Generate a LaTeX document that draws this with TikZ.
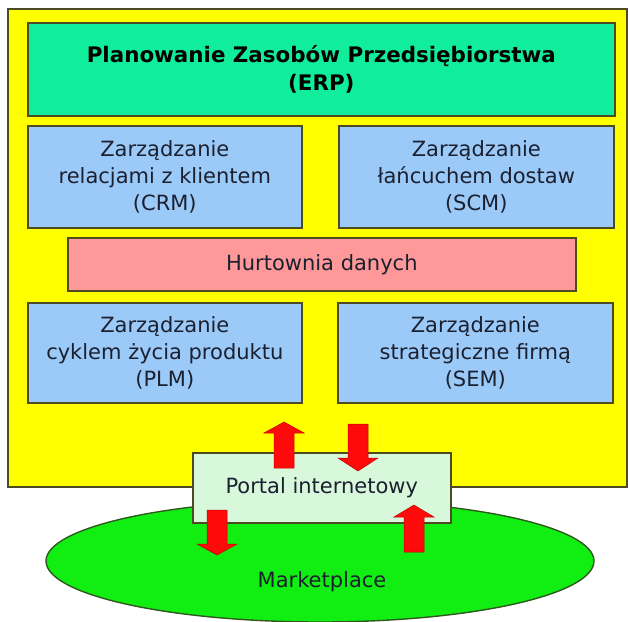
\documentclass[tikz,border=0pt]{standalone}
\usepackage{fontspec}
\setmainfont{DejaVu Sans}
\usetikzlibrary{shapes.geometric}

\definecolor{frameyellow}{HTML}{FFFF00}
\definecolor{erpgreen}{HTML}{10EE9C}
\definecolor{modblue}{HTML}{9CCAF8}
\definecolor{dwpink}{HTML}{FF9999}
\definecolor{portalmint}{HTML}{D8F8DC}
\definecolor{marketgreen}{HTML}{11EE11}
\definecolor{edgeolive}{HTML}{4E4A22}
\definecolor{marketedge}{HTML}{2E5A1E}
\definecolor{inkdark}{HTML}{1B2030}
\definecolor{flowred}{HTML}{FF0A0A}
\definecolor{flowedge}{HTML}{C00000}

\tikzset{
  panel/.style={draw=edgeolive, line width=1.6pt, rectangle, inner sep=0pt,
    anchor=north west, align=center, text=inkdark,
    font=\fontsize{21}{27}\selectfont},
  module/.style={panel, fill=modblue},
  txt/.style={text=inkdark, font=\fontsize{21}{27}\selectfont, inner sep=0pt},
  flow/.style={fill=flowred, draw=flowedge, line width=0.5pt, line join=miter}
}

% vertical block arrow: x centre, tail y, tip y, head base y
\newcommand\blockarrow[4]{%
  \draw[flow] (#1-10,#2) -- (#1-10,#4) -- (#1-20,#4) -- (#1,#3)
    -- (#1+20,#4) -- (#1+10,#4) -- (#1+10,#2) -- cycle;}

\begin{document}
\begin{tikzpicture}[x=1pt, y=-1pt]
\useasboundingbox (0,0) rectangle (628,621);

% enterprise frame
\node[panel, fill=frameyellow, minimum width=619pt, minimum height=478pt]
  (frame) at (7,8) {};

\node[panel, fill=erpgreen, minimum width=587pt, minimum height=93pt,
  text=black, font=\fontsize{21.4}{28}\selectfont\bfseries] (erp) at (27,22)
  {Planowanie Zasobów Przedsiębiorstwa\\(ERP)};

\node[module, minimum width=274pt, minimum height=102pt] (crm) at (27,125)
  {Zarządzanie\\relacjami z klientem\\(CRM)};
\node[module, minimum width=275pt, minimum height=102pt] (scm) at (338,125)
  {Zarządzanie\\łańcuchem dostaw\\(SCM)};

\node[panel, fill=dwpink, minimum width=508pt, minimum height=53pt] (dw)
  at (67,237) {Hurtownia danych};

\node[module, minimum width=274pt, minimum height=100pt] (plm) at (27,302)
  {Zarządzanie\\cyklem życia produktu\\(PLM)};
\node[module, minimum width=275pt, minimum height=100pt] (sem) at (337,302)
  {Zarządzanie\\strategiczne firmą\\(SEM)};

% marketplace and portal
\node[ellipse, draw=marketedge, line width=1.4pt, fill=marketgreen,
  minimum width=548pt, minimum height=122pt, inner sep=0pt] (market)
  at (320,561) {};
\node[txt] (marketlbl) at (322,582) {Marketplace};

\node[panel, fill=portalmint, minimum width=258pt, minimum height=70pt]
  (portal) at (192,452) {Portal internetowy};

% data flows between the portal, the enterprise and the market
\blockarrow{284}{468}{422}{433}
\blockarrow{358}{424}{471}{458}
\blockarrow{217}{510}{555}{544}
\blockarrow{414}{552}{505}{517}
\end{tikzpicture}
\end{document}
